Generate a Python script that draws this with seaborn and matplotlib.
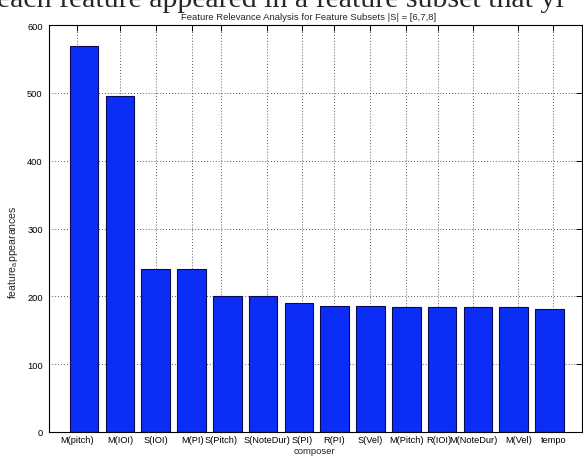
import matplotlib
matplotlib.use("Agg")
import matplotlib.pyplot as plt
import seaborn as sns

# Feature names and how often each appeared in the selected subsets
features = ["M(pitch)", "M(IOI)", "S(IOI)", "M(PI)", "S(Pitch)", "S(NoteDur)", "S(PI)",
            "R(PI)", "S(Vel)", "M(Pitch)", "R(IOI)", "M(NoteDur)", "M(Vel)", "tempo"]
appearances = [569, 495, 240, 240, 201, 201, 190, 186, 186, 184, 184, 184, 184, 182]
yticks = [0, 100, 200, 300, 400, 500, 600]

title = "Feature Relevance Analysis for Feature Subsets |S| = [6,7,8]"
xlabel = "composer"
ylabel = r"feature$_{\mathregular{a}}$ppearances"
caption = "each feature appeared in a feature subset that yi"

sns.set_style("white")
plt.rcParams["font.family"] = ["Liberation Sans", "DejaVu Sans"]

W, H = 583, 460
fig = plt.figure(figsize=(W / 100, H / 100), dpi=100)
ax_l, ax_r, ax_t, ax_b = 49, 582, 26, 433
ax = fig.add_axes([ax_l / W, 1 - ax_b / H, (ax_r - ax_l) / W, (ax_b - ax_t) / H])

sns.barplot(x=features, y=appearances, color="#0b2df5", saturation=1, width=0.8,
            edgecolor="#0a0a55", linewidth=0.8, ax=ax, zorder=2)

ax.set_xlim(-0.98, 13.91)
ax.set_ylim(0, 600)

# tick positions along the category axis (label anchors)
tick_offsets = [-0.20, 0.01, 0.01, 0.02, -0.17, 0.11, 0.08,
                -0.01, -0.01, 0.0, -0.10, -0.13, 0.13, 0.11]
ax.set_xticks([i + o for i, o in enumerate(tick_offsets)], features)
ax.set_yticks(yticks, [str(v) for v in yticks])

ax.set_axisbelow(True)
ax.grid(True, linestyle=(0, (1, 2.5)), color="#222222", linewidth=0.6, zorder=0)
ax.tick_params(direction="in", top=True, right=True, length=4, width=0.7,
               labelsize=6.7, colors="black")
ax.tick_params(axis="x", pad=2.5)
ax.tick_params(axis="y", pad=4.5)
for s in ax.spines.values():
    s.set_color("black")
    s.set_linewidth(0.8)
    s.set_zorder(3)

ax.set_xlabel("")
ax.set_ylabel("")
fig.text(314 / W, 1 - 451.5 / H, xlabel, ha="center", va="center", fontsize=6.8)
fig.text(12.7 / W, 1 - 252 / H, ylabel, ha="center", va="center", rotation=90, fontsize=7.6)
fig.text(309 / W, 1 - 17 / H, title, ha="center", va="center", fontsize=6.8)

# running text of the page above the figure, cut off at the top edge
fig.text(-3 / W, 1 - 7 / H, caption, ha="left", va="baseline",
         fontsize=21.5, family=["Liberation Serif", "DejaVu Serif"])

fig.savefig("out.png", dpi=100)
